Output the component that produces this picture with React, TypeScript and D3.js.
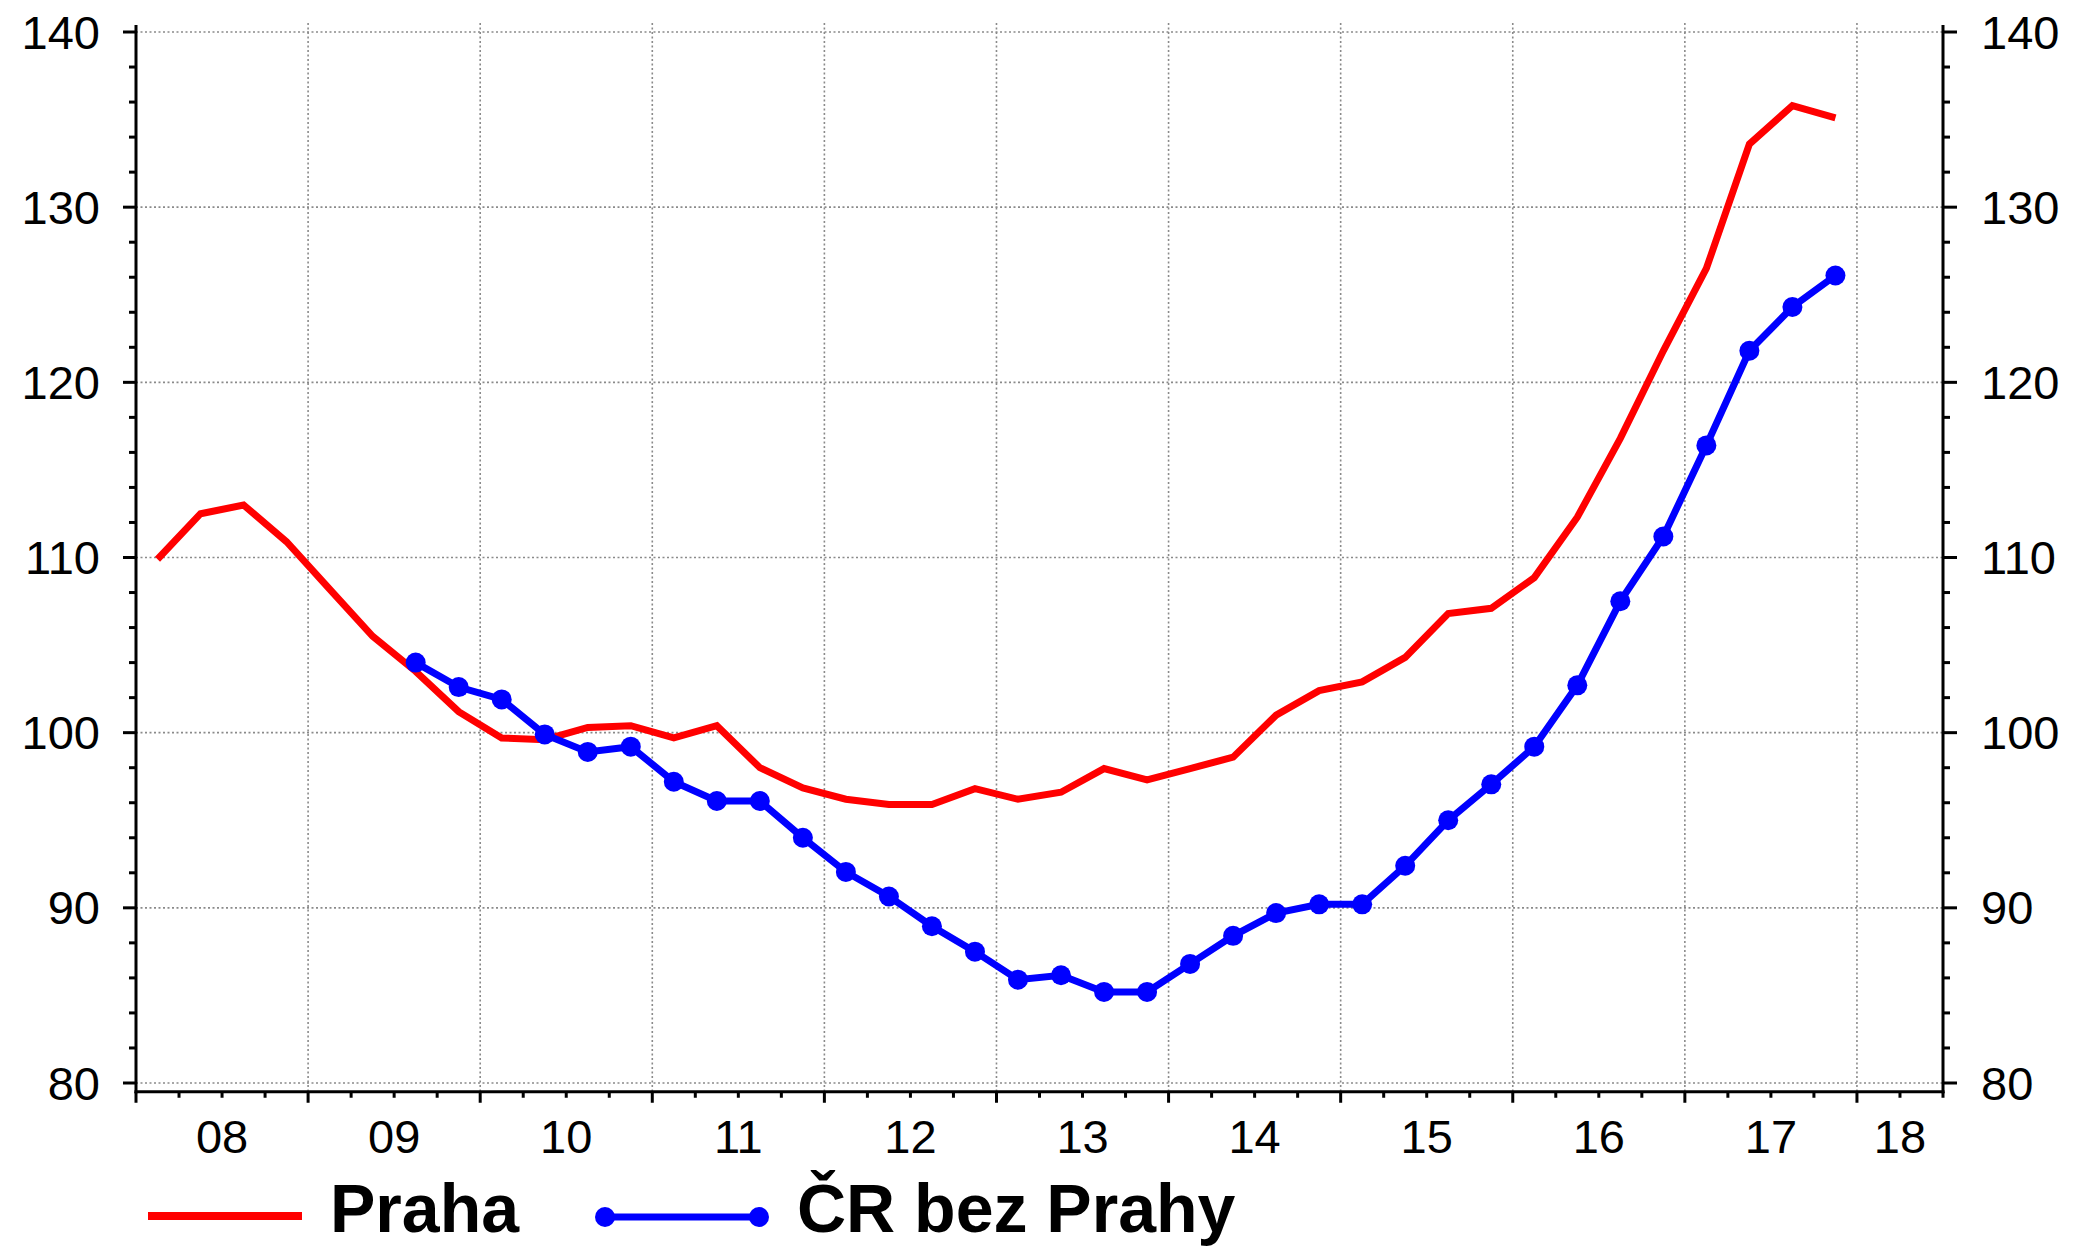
import React from 'react';
import * as d3 from 'd3';

// quarterly index values, Praha from 2008Q1, ČR bez Prahy from 2009Q3
const prahaStart = { year: 2008, quarter: 1 };
const praha = [
    109.9, 112.5, 113.0, 110.9,
    108.2, 105.5, 103.5, 101.2,
    99.7, 99.6, 100.3, 100.4,
    99.7, 100.4, 98.0, 96.85,
    96.2, 95.9, 95.9, 96.8,
    96.2, 96.6, 97.95, 97.3,
    97.95, 98.6, 101.0, 102.4,
    102.9, 104.3, 106.8, 107.1,
    108.85, 112.3, 116.8, 121.8,
    126.5, 133.6, 135.8, 135.1,
];

const crStart = { year: 2009, quarter: 3 };
const crBezPrahy = [
    104.0, 102.6,
    101.9, 99.9, 98.9, 99.2,
    97.2, 96.1, 96.1, 94.0,
    92.05, 90.65, 88.95, 87.5,
    85.9, 86.15, 85.2, 85.2,
    86.8, 88.4, 89.7, 90.2,
    90.2, 92.4, 95.0, 97.05,
    99.2, 102.7, 107.5, 111.2,
    116.4, 121.8, 124.3, 126.1,
];

const yearLabels = ['08', '09', '10', '11', '12', '13', '14', '15', '16', '17', '18'];
const yTicks = [80, 90, 100, 110, 120, 130, 140];

const W = 2073;
const H = 1248;
const font = '"Liberation Sans", Arial, sans-serif';
const gridColor = '#8a8a8a';

// time (decimal year) of the middle of the i-th quarter after start
const qTime = (start: { year: number; quarter: number }, i: number) =>
    start.year + (start.quarter - 1 + i) * 0.25 + 0.125;

const App: React.FC = () => {
    const x = d3.scaleLinear().domain([2008, 2018.5]).range([136, 1943]);
    const y = d3.scaleLinear().domain([80, 140]).range([1083, 32]);

    const left = x(2008);
    const right = x(2018.5);
    const top = y(140.4);
    const bottom = y(79.5);

    const prahaPts = praha.map((v, i) => [x(qTime(prahaStart, i)), y(v)] as [number, number]);
    const crPts = crBezPrahy.map((v, i) => [x(qTime(crStart, i)), y(v)] as [number, number]);
    const path = d3.line<[number, number]>().x((d) => d[0]).y((d) => d[1]);

    const quarterTicks = d3.range(0, 43).map((i) => 2008 + i * 0.25);
    const minorY = d3.range(80, 141, 2);
    const yearStarts = d3.range(2009, 2019);

    return (
        <svg width={W} height={H} style={{ position: 'absolute', left: 0, top: 0, background: '#fff' }}>
            <rect width={W} height={H} fill="#fff" />

            {/* grid */}
            <g stroke={gridColor} strokeWidth={1.6} strokeDasharray="2 2.5">
                {yTicks.map((t) => (
                    <line key={'h' + t} x1={left} x2={right} y1={y(t)} y2={y(t)} />
                ))}
                {yearStarts.map((yr) => (
                    <line key={'v' + yr} x1={x(yr)} x2={x(yr)} y1={top - 2} y2={bottom} />
                ))}
            </g>

            {/* series */}
            <path d={path(prahaPts) || ''} fill="none" stroke="#ff0000" strokeWidth={7} />
            <path d={path(crPts) || ''} fill="none" stroke="#0000ff" strokeWidth={7} />
            {crPts.map((p, i) => (
                <circle key={i} cx={p[0]} cy={p[1]} r={10} fill="#0000ff" />
            ))}

            {/* axes */}
            <g stroke="#000" strokeWidth={3}>
                <line x1={left} x2={left} y1={top} y2={bottom + 1.5} />
                <line x1={right} x2={right} y1={top} y2={bottom + 1.5} />
                <line x1={left - 1.5} x2={right + 1.5} y1={bottom} y2={bottom} />
                {minorY.map((v) => {
                    const major = v % 10 === 0;
                    return (
                        <g key={'yt' + v}>
                            <line x1={left - (major ? 13 : 7)} x2={left} y1={y(v)} y2={y(v)} />
                            <line x1={right} x2={right + (major ? 14 : 7)} y1={y(v)} y2={y(v)} />
                        </g>
                    );
                })}
                {quarterTicks.map((t) => {
                    const major = Math.abs(t - Math.round(t)) < 1e-6;
                    return <line key={'xt' + t} x1={x(t)} x2={x(t)} y1={bottom} y2={bottom + (major ? 11 : 6)} />;
                })}
            </g>

            {/* tick labels */}
            <g fontFamily={font} fontSize={47} fill="#000">
                {yTicks.map((t) => (
                    <text key={'yl' + t} x={left - 36} y={y(t)} textAnchor="end" dominantBaseline="central">
                        {t}
                    </text>
                ))}
                {yTicks.map((t) => (
                    <text key={'yr' + t} x={right + 38} y={y(t)} textAnchor="start" dominantBaseline="central">
                        {t}
                    </text>
                ))}
                {yearLabels.map((lab, i) => {
                    const a = 2008 + i;
                    const b = Math.min(a + 1, 2018.5);
                    return (
                        <text key={'xl' + lab} x={(x(a) + x(b)) / 2} y={1153} textAnchor="middle">
                            {lab}
                        </text>
                    );
                })}
            </g>

            {/* legend */}
            <g fontFamily={font} fontSize={68} fontWeight="bold" fill="#000">
                <line x1={148} x2={302} y1={1216} y2={1216} stroke="#ff0000" strokeWidth={8} />
                <text x={330} y={1232}>Praha</text>
                <line x1={605} x2={759} y1={1217} y2={1217} stroke="#0000ff" strokeWidth={7} />
                <circle cx={605} cy={1217} r={10} fill="#0000ff" />
                <circle cx={759} cy={1217} r={10} fill="#0000ff" />
                <text x={797} y={1232}>ČR bez Prahy</text>
            </g>
        </svg>
    );
};

export default App;
